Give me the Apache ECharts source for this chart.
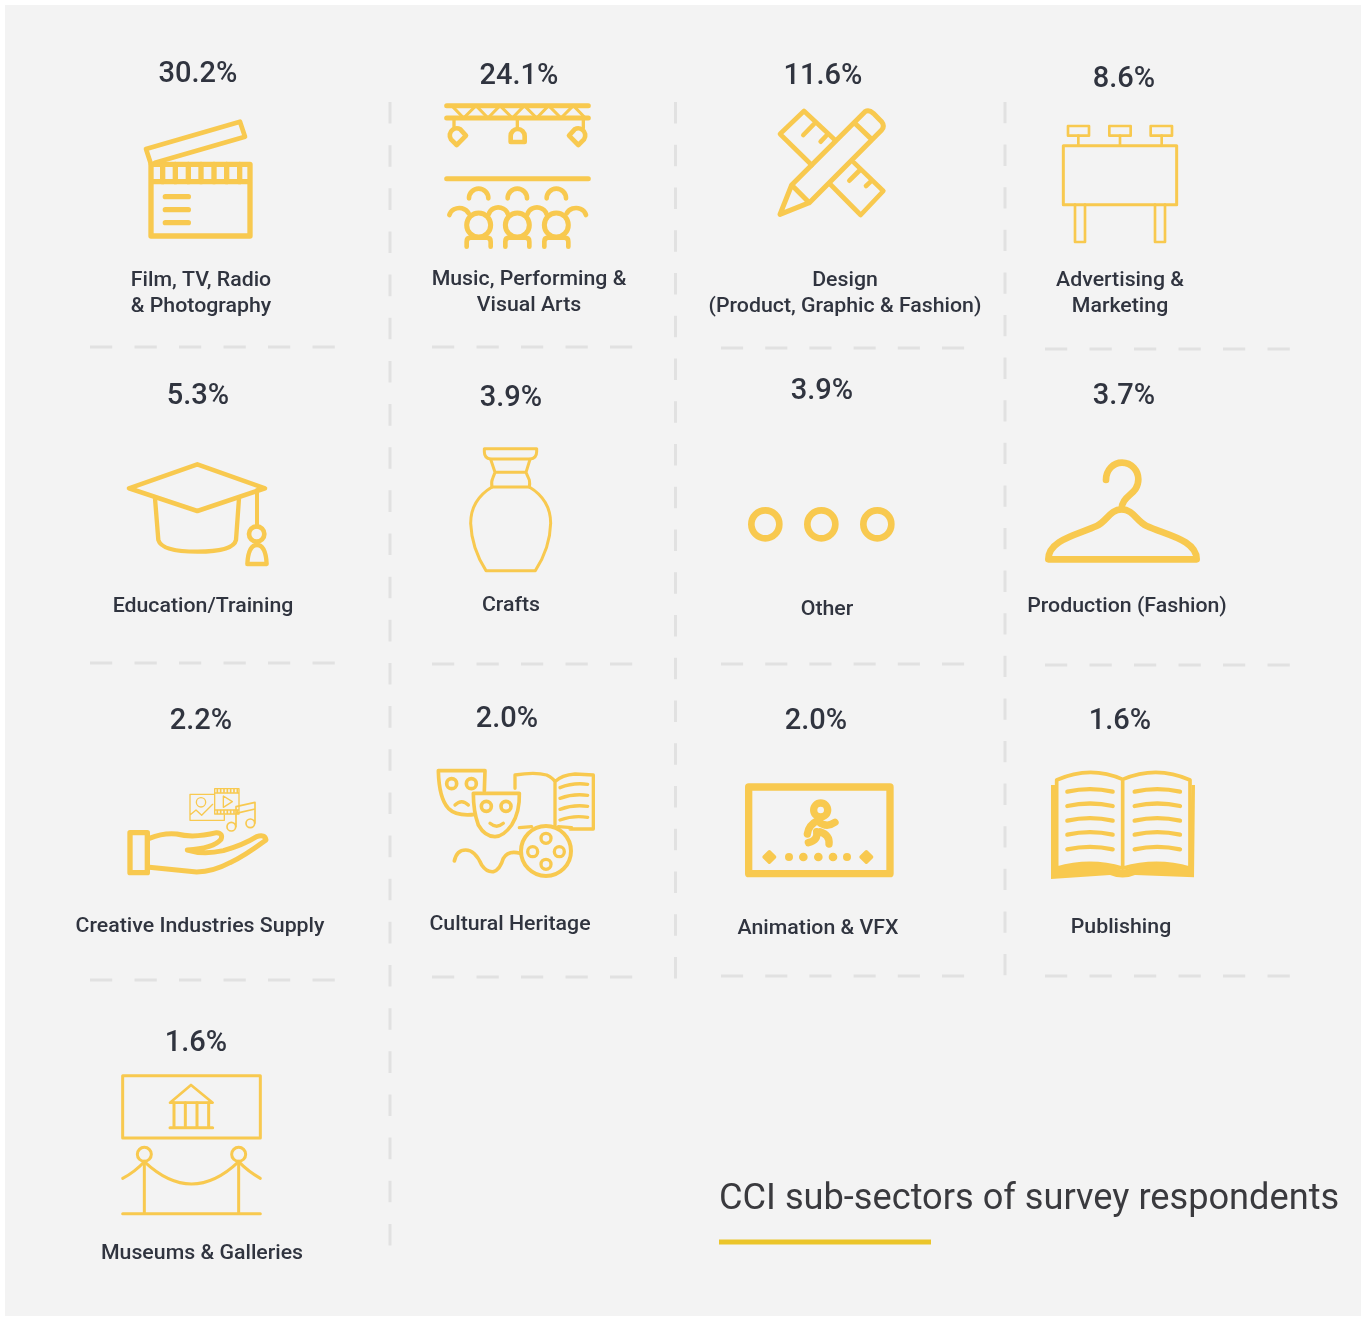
<!DOCTYPE html>
<html>
<head>
<meta charset="utf-8">
<title>CCI sub-sectors of survey respondents</title>
<script src="https://cdn.jsdelivr.net/npm/echarts@6/dist/echarts.min.js"></script>
<style>
html,body{margin:0;padding:0;background:#fff;}
#main{width:1362px;height:1317px;}
</style>
</head>
<body>
<div id="main"></div>
<script>
// data
const categories = [
    'Film, TV, Radio\n& Photography', 'Music, Performing &\nVisual Arts', 'Design\n(Product, Graphic & Fashion)', 'Advertising &\nMarketing',
    'Education/Training', 'Crafts', 'Other', 'Production (Fashion)',
    'Creative Industries Supply', 'Cultural Heritage', 'Animation & VFX', 'Publishing',
    'Museums & Galleries'
]
const shares = [30.2, 24.1, 11.6, 8.6, 5.3, 3.9, 3.9, 3.7, 2.2, 2.0, 2.0, 1.6, 1.6]
const titleText = 'CCI sub-sectors of survey respondents'

// layout (page pixels, kept apart from the values)
const shareAt = [[198,75],[519,77],[823,77],[1124,80],[198,397],[511,399],[822,392],[1124,397],[201,722],[507,720],[816,722],[1120,722],[196,1044]]
const labelAt = [[201,294],[529,293],[845,294],[1120,294],[203,607],[511,606],[827,610],[1127,607],[200,927],[510,925],[818,929],[1121,928],[202,1254]]
// x, y from, y to, dash period
const vGuides = [[390,102,1246,43.15],[675.5,102,979,42.75],[1005,102,976,42.6]]
// x from, x to, y, dash period
const hGuides = [
    [90,336,347,44.5],[432,633,347,44.5],[721,965,348,44.2],[1045,1290,349,44.5],
    [90,336,663,44.5],[432,633,664,44.5],[721,965,664,44.2],[1045,1290,665,44.5],
    [90,336,980,44.5],[432,633,977,44.5],[721,965,976,44.2],[1045,1290,976,44.5]
]

const YELLOW = '#f8c94f'
const INK = '#30343f'
const FONT = 'Roboto, "Noto Sans", sans-serif'

function dot(cx, cy, r) {
    return `M${cx-r} ${cy}A${r} ${r} 0 1 1 ${cx+r} ${cy}A${r} ${r} 0 1 1 ${cx-r} ${cy}Z`
}
function offset(list, fn) {
    return list.map(fn).join('')
}

// icons are sketched at 3x around their own origin, [stroke width, path, filled?]
const icons = [
    { at: [100,50], parts: [
        [16, 'M153 343H450V558H153ZM153 395H450'],
        [16, offset([188,226,265,303,342,380,419], x => `M${x} 343V395`)],
        [16, 'M196 440H265M196 479H265M196 518H265'],
        [14, 'M153 343L138 297L420 215L435 260L165 338']
    ]},
    { at: [100,50], parts: [
        [15, 'M1040 167H1465M1040 204H1465M1040 386H1465'],
        [9, 'M1055 167L1091 204L1128 167L1164 204L1200 167L1237 204L1273 167L1310 204L1346 167L1383 204L1420 167L1456 204'],
        [10, 'M1062 204V235M1252 204V235M1450 204V235'],
        [14, 'M1232 276V258A21 21 0 0 1 1274 258V276Z'],
        [14, 'M1098 257L1070 285L1053 268A21 21 0 0 1 1081 238Z'],
        [14, 'M1407 257L1435 285L1452 268A21 21 0 0 0 1424 238Z'],
        [14, offset([1136,1252,1369], x => `M${x-29} 445A29 29 0 0 1 ${x+29} 445`)],
        [14, 'M1048 495A31 28 0 0 1 1106 490M1166 493A30 28 0 0 1 1224 493M1282 493A30 28 0 0 1 1340 493M1400 490A31 28 0 0 1 1458 495'],
        [15, offset([1136,1252,1369], x => dot(x, 525, 36))],
        [14, offset([1136,1252,1369], x => `M${x-36} 590V575Q${x-36} 563 ${x-24} 563H${x+24}Q${x+36} 563 ${x+36} 575V590`)]
    ]},
    { at: [690,50], parts: [
        [15, 'M270 493L305 405L525 185Q537 178 550 190L575 215Q585 228 575 240L358 458ZM305 405L358 458M497 222L545 268'],
        [14, 'M435 270L342 183L270 252L365 345M340 255L372 222M392 275L408 258'],
        [14, 'M492 338L580 423L512 495L420 402M478 392L510 360M528 408L545 392']
    ]},
    { at: [690,50], parts: [
        [9, 'M1120 287H1460V464H1120Z'],
        [8, 'M1134 228H1197V257H1134ZM1258 228H1322V257H1258ZM1382 228H1446V257H1382Z'],
        [8, 'M1165 257V287M1290 257V287M1415 257V287'],
        [8, 'M1155 464V576H1185V464M1395 464V576H1425V464']
    ]},
    { at: [100,430], parts: [
        [14, 'M87 175L292 103L495 175L292 243Z'],
        [13, 'M165 205L175 330Q185 365 292 365Q400 365 408 330L417 205'],
        [12, 'M471 180V290'],
        [14, dot(470, 312, 23)],
        [13, 'M442 402H500Q497 345 471 345Q445 345 442 402Z']
    ]},
    { at: [100,430], parts: [
        [9, 'M1153 56H1310V65Q1310 85 1290 87H1172Q1153 85 1153 65Z'],
        [9, 'M1172 88L1185 127L1178 145Q1173 155 1176 172M1290 88L1278 127L1288 150Q1290 160 1288 172M1185 127H1278M1176 171H1288'],
        [9, 'M1176 171Q1112 210 1112 280Q1115 355 1158 422H1306Q1350 355 1352 280Q1352 210 1288 171']
    ]},
    { at: [720,440], parts: [
        [20, dot(136,253,42) + dot(304,253,42) + dot(472,253,42)]
    ]},
    { at: [720,440], parts: [
        [20, 'M1158 120C1158 90 1180 68 1206 68C1235 68 1255 92 1255 118C1255 165 1205 165 1205 207'],
        [20, 'M985 358H1430C1430 300 1340 285 1280 258C1250 245 1240 208 1205 208C1170 208 1160 245 1130 258C1070 285 985 300 985 358Z']
    ]},
    { at: [110,760], parts: [
        [16, 'M60 218H112V338H60Z'],
        [15, 'M118 235Q160 218 200 222Q250 235 320 218Q340 220 333 238Q310 265 232 270Q280 285 340 272Q400 255 440 230Q465 222 468 240Q400 290 360 308Q310 335 260 336L118 322'],
        [4, 'M312 103H240V181H343V165' + dot(273,127,14) + 'M240 165L258 150L275 166L308 133'],
        [4, 'M314 86H387V162H314ZM314 99H387M314 150H387M340 108V142L367 125Z'],
        [5, offset([322,332,342,352,362,372,382], x => `M${x} 88V97M${x} 152V160`)],
        [5, 'M378 200V140L435 127V190M378 160L435 147' + dot(364,200,13) + dot(421,190,13)]
    ]},
    { at: [425,755], parts: [
        [11, 'M178 108L180 47H40Q42 130 70 160Q95 185 150 178'],
        [11, dot(80,86,15) + dot(139,86,15) + dot(184,154,15) + dot(243,154,15)],
        [10, 'M90 150Q110 130 130 150M195 205Q215 222 235 205'],
        [11, 'M145 115H283Q285 170 260 210Q235 245 210 245Q180 245 160 210Q145 170 145 115Z'],
        [10, 'M270 100V60Q330 50 365 60Q385 70 390 80V215M390 80Q410 60 450 57L505 60V222H435M283 218L320 215M400 215L440 218'],
        [10, 'M405 98Q445 82 488 88M405 130Q445 115 488 121M405 163Q445 148 488 154M405 195Q445 180 488 187'],
        [12, dot(363,288,75)],
        [10, dot(363,250,15) + dot(323,290,15) + dot(403,290,15) + dot(363,328,15)],
        [11, 'M88 318Q95 285 122 285Q150 285 170 330Q185 352 205 350Q225 345 235 310Q250 285 285 295']
    ]},
    { at: [730,760], parts: [
        [22, 'M56 81H480V341H56Z'],
        [22, dot(272,150,21)],
        [22, 'M265 180Q235 195 232 222M265 185Q290 205 315 187M270 215Q300 225 297 252M260 215Q265 240 235 248'],
        [0, dot(177,291,12) + dot(220,291,13) + dot(265,291,13) + dot(309,291,13) + dot(351,291,12), true],
        [10, 'M118 275L134 291L118 307L102 291ZM409 275L425 291L409 307L393 291Z', true]
    ]},
    { at: [730,760], parts: [
        [11, 'M980 60Q1080 15 1178 58V325Q1080 295 980 325ZM1178 58Q1280 15 1380 60V325Q1280 295 1178 325Z'],
        [0, 'M963 75H975L982 322Q1085 296 1178 330Q1280 296 1376 322L1385 75H1395L1392 352L1215 345Q1178 360 1140 345L963 357Z', true],
        [13, offset([95,138,182,224,268], y => `M1012 ${y}Q1080 ${y-15} 1148 ${y}M1214 ${y}Q1282 ${y-15} 1350 ${y}`)]
    ]},
    { at: [100,1060], parts: [
        [9, 'M68 47H481V234H68Z'],
        [8, 'M210 128L273 75L338 128Z'],
        [9, 'M222 128V203M256 128V203M291 128V203M326 128V203M210 203H338'],
        [9, dot(133,283,21) + dot(416,283,21)],
        [9, 'M133 304V461M416 304V461M68 461H481'],
        [9, 'M133 305Q275 439 416 305M68 355Q105 335 133 305M416 305Q445 335 481 355']
    ]}
]

function renderIcon(params, api) {
    const icon = icons[params.dataIndex]
    const p = api.coord([icon.at[0], icon.at[1]])
    return {
        type: 'group',
        x: p[0],
        y: p[1],
        scaleX: 1 / 3,
        scaleY: 1 / 3,
        children: icon.parts.map(part => ({
            type: 'path',
            shape: { pathData: part[1] },
            style: {
                fill: part[2] ? YELLOW : 'none',
                stroke: part[0] ? YELLOW : 'none',
                lineWidth: part[0],
                lineCap: 'round',
                lineJoin: 'round'
            }
        }))
    }
}

function textAt(texts, fontSize, lineHeight, stretch) {
    return function (params, api) {
        const p = api.coord([api.value(0), api.value(1)])
        return {
            type: 'text',
            x: p[0],
            y: p[1],
            scaleX: stretch,
            style: {
                text: texts[params.dataIndex],
                fill: INK,
                fontFamily: FONT,
                fontSize: fontSize,
                fontWeight: 500,
                lineHeight: lineHeight,
                align: 'center',
                verticalAlign: 'middle'
            }
        }
    }
}

function renderGuide(params, api) {
    const a = api.coord([api.value(0), api.value(1)])
    const b = api.coord([api.value(2), api.value(3)])
    const period = api.value(4)
    return {
        type: 'line',
        shape: { x1: a[0], y1: a[1], x2: b[0], y2: b[1] },
        style: { stroke: '#e1e1e1', lineWidth: 3, lineDash: [period / 2, period / 2] }
    }
}

const guideData = vGuides.map(g => [g[0], g[1], g[0], g[2], g[3]])
    .concat(hGuides.map(g => [g[0], g[2], g[1], g[2], g[3]]))

const myChart = echarts.init(document.getElementById('main'), null, { renderer: 'canvas' })
myChart.setOption({
    animation: false,
    backgroundColor: '#ffffff',
    grid: { show: true, left: 5, top: 5, right: 1, bottom: 1, backgroundColor: '#f3f3f3', borderWidth: 0 },
    xAxis: { type: 'value', min: 5, max: 1361, show: false },
    yAxis: { type: 'value', min: 5, max: 1316, inverse: true, show: false },
    series: [
        { type: 'custom', coordinateSystem: 'cartesian2d', clip: false, silent: true, renderItem: renderGuide, data: guideData },
        { type: 'custom', coordinateSystem: 'cartesian2d', clip: false, silent: true, renderItem: renderIcon, data: icons.map(i => i.at) },
        { type: 'custom', coordinateSystem: 'cartesian2d', clip: false, silent: true, renderItem: textAt(shares.map(v => v.toFixed(1) + '%'), 29, 32, 1), data: shareAt },
        { type: 'custom', coordinateSystem: 'cartesian2d', clip: false, silent: true, renderItem: textAt(categories, 21, 26, 1.015), data: labelAt },
        {
            type: 'custom', coordinateSystem: 'cartesian2d', clip: false, silent: true, data: [[719, 1200, 931, 1242]],
            renderItem: function (params, api) {
                const t = api.coord([api.value(0), api.value(1)])
                const u = api.coord([api.value(2), api.value(3)])
                return {
                    type: 'group',
                    children: [
                        { type: 'text', x: t[0], y: t[1], scaleX: 1.005, style: { text: titleText, fill: '#3a3a3e', fontFamily: FONT, fontSize: 36, fontWeight: 400, align: 'left', verticalAlign: 'middle' } },
                        { type: 'rect', shape: { x: t[0], y: u[1] - 2.5, width: u[0] - t[0], height: 5 }, style: { fill: '#ebc52a' } }
                    ]
                }
            }
        }
    ]
})
</script>
</body>
</html>
